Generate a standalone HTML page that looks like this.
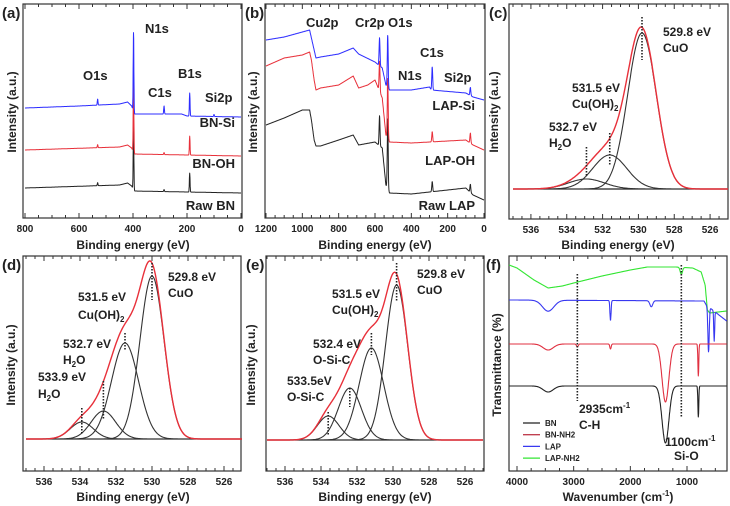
<!DOCTYPE html>
<html><head><meta charset="utf-8"><style>
html,body{margin:0;padding:0;background:#fff}
svg{display:block;font-family:"Liberation Sans",sans-serif;font-weight:bold}
</style></head><body>
<svg id="fig" width="730" height="506" viewBox="0 0 730 506" xmlns="http://www.w3.org/2000/svg"></svg>
<script>
// ---------- Data ----------
// Panel (a) survey (energy eV, counts)
const aBlueBase=[[800,110],[600,112],[450,114],[420,116],[405,112],[395,104],[220,104],[200,102],[0,101]];
const aBluePeaks=[[531,6],[398,79],[285,8],[190,23],[100,2]];
const aRedBase=[[800,68],[450,71],[420,73],[405,70],[395,64],[200,63],[0,62]];
const aRedPeaks=[[531,3],[398,70],[285,2],[190,19]];
const aBlackBase=[[800,30],[450,33],[420,35],[405,32],[395,27],[200,26],[0,25]];
const aBlackPeaks=[[531,3],[398,62],[285,2],[190,19]];
// Panel (b) survey
const bBlueBase=[[1200,178],[1100,181],[1000,186],[960,188],[950,180],[935,168],[925,160],[900,161],[800,164],[720,170],[690,164],[600,156],[560,150],[540,133],[520,128],[400,128],[300,131],[290,128],[100,125],[60,121],[0,118]];
const bBluePeaks=[[575,28],[530,52],[285,23],[75,8]];
const bRedBase=[[1200,152],[1150,156],[1100,160],[1000,163],[960,166],[950,158],[935,138],[925,128],[900,130],[800,133],[720,142],[690,130],[640,133],[600,138],[560,120],[540,83],[520,76],[400,75],[300,76],[100,78],[60,73],[0,68]];
const bRedPeaks=[[575,30],[530,60],[285,10],[75,10]];
const bBlackBase=[[1200,93],[1100,100],[1000,108],[960,108],[950,98],[935,78],[925,72],[900,72],[800,78],[720,83],[690,73],[600,76],[560,70],[540,33],[520,25],[400,24],[300,26],[100,30],[60,23],[0,18]];
const bBlackPeaks=[[575,30],[530,70],[285,10],[75,8]];
// Panels (c),(d),(e): fitted components [center eV, height, sigma]
const cComps=[[529.8,156,0.8],[531.6,34,0.95],[532.9,10,1.0]];
const dComps=[[530.0,163,0.67],[531.5,96,0.75],[532.7,28,0.68],[533.9,17,0.64]];
const eComps=[[529.8,155,0.62],[531.2,92,0.68],[532.4,52,0.64],[533.6,24,0.6]];
// Panel (f) FTIR baselines [wavenumber, T] and bands [center, depth, sigma]
const fGreenBase=[[4140,206],[4000,203],[3700,191],[3450,183],[3200,185],[3000,188],[2500,195],[2000,201],[1700,204],[1200,204],[900,203],[750,199],[680,186],[640,161],[600,158],[300,160]];
const fGreenBands=[[1100,7,20]];
const fBlueBase=[[4140,171],[700,170],[660,166],[300,150]];
const fBlueBands=[[3450,11,100],[2350,20,10],[1630,6,25],[620,45,12],[520,30,8]];
const fRedBase=[[4140,127],[300,127]];
const fRedBands=[[3450,6,90],[2935,3,15],[2350,5,12],[1380,58,60],[800,32,8]];
const fBlackBase=[[4140,85],[300,85]];
const fBlackBands=[[3450,6,90],[1380,57,60],[800,31,8]];

// ---------- Helpers ----------
const NS="http://www.w3.org/2000/svg";
const svg=document.getElementById('fig');
function mk(tag,attrs,parent){const e=document.createElementNS(NS,tag);for(const k in attrs)e.setAttribute(k,attrs[k]);(parent||svg).appendChild(e);return e;}
function interp(base,e){for(let i=0;i<base.length-1;i++){const [e0,v0]=base[i],[e1,v1]=base[i+1];if(e<=e0&&e>=e1){return v0+(v1-v0)*(e-e0)/(e1-e0);}}return base[base.length-1][1];}
function gauss(x,c,h,s){return h*Math.exp(-(x-c)*(x-c)/(2*s*s));}
function lin(d0,d1,p0,p1){return v=>p0+(v-d0)*(p1-p0)/(d1-d0);}
function text(str,x,y,size,anchor,name){const t=mk('text',{x:x,y:y,'font-size':size,'text-anchor':anchor||'start',fill:'#222'});t.textContent=str;


return t;}
function panelBox(p){
 const r=mk('rect',{x:p.x0,y:p.y0,width:p.x1-p.x0,height:p.y1-p.y0,fill:'none',stroke:'#333','stroke-width':1.2});
 
 
}
function ticks(p,from,to,minor,major,fmt){
 const g=mk('g',{});
 
 
 const lo=Math.min(from,to),hi=Math.max(from,to);
 for(let v=Math.ceil(lo/minor)*minor;v<=hi+1e-9;v+=minor){
  const x=p.xs(v);if(x<p.x0-0.5||x>p.x1+0.5)continue;
  const isMaj=Math.abs(v/major-Math.round(v/major))<1e-6;
  const L=isMaj?5:3;
  mk('line',{x1:x,x2:x,y1:p.y1,y2:p.y1-L,stroke:'#333','stroke-width':1},g);
  mk('line',{x1:x,x2:x,y1:p.y0,y2:p.y0+L,stroke:'#333','stroke-width':1},g);
  if(isMaj){const t=mk('text',{x:x,y:p.y1+14,'font-size':10,'text-anchor':'middle',fill:'#222'},g);t.textContent=fmt?fmt(v):String(Math.round(v));
   
   }
 }
}
function path(pts,color,name,w,dash){
 const d=pts.map((q,i)=>(i?'L':'M')+q[0].toFixed(1)+' '+q[1].toFixed(1)).join('');
 const e=mk('path',{d:d,fill:'none',stroke:color,'stroke-width':w||1.2,'stroke-linejoin':'round'});
 if(dash)e.setAttribute('stroke-dasharray',dash);
 
 
 return e;
}
function vdot(x,y0,y1,name){const l=mk('line',{x1:x,x2:x,y1:y0,y2:y1,stroke:'#222','stroke-width':1.6,'stroke-dasharray':'1.5,1.5'});
 
 }
function ylabel(str,x,y,name){const t=mk('text',{x:0,y:0,'font-size':12,'text-anchor':'middle',fill:'#222',transform:`translate(${x},${y}) rotate(-90)`});t.textContent=str;
 
 }
function sub(main,s,x,y,name){const t=mk('text',{x:x,y:y,'font-size':12,fill:'#222'});
 const parts=main.split('|');const a=mk('tspan',{},t);a.textContent=parts[0];const b=mk('tspan',{dy:3,'font-size':8},t);b.textContent=s;if(parts[1]){const c=mk('tspan',{dy:-3},t);c.textContent=parts[1];}}

// ---------- Panel (a) ----------
const pa={id:'panel-a',x0:23,x1:242,y0:4,y1:218};pa.xs=lin(800,0,25,241);
panelBox(pa);ticks(pa,800,0,50,200);
function survey(p,base,peaks,sig,color,name,from,to){const pts=[];for(let e=from;e>=to;e-=0.5){let v=interp(base,e);for(const pk of peaks)v+=gauss(e,pk[0],pk[1],sig);pts.push([p.xs(e),p.y1-v]);}path(pts,color,name,1);}
survey(pa,aBlackBase,aBlackPeaks,1.3,'#222','panel-a-raw-bn-line',800,0);
survey(pa,aRedBase,aRedPeaks,1.3,'#e8303a','panel-a-bn-oh-line',800,0);
survey(pa,aBlueBase,aBluePeaks,1.3,'#2d2dff','panel-a-bn-si-line',800,0);
text('(a)',2,18,15,'start','panel-a-label');
text('O1s',83,80,13,'start','o1s-label');text('N1s',145,33,13,'start','n1s-label');
text('C1s',148,97,13,'start','c1s-label');text('B1s',178,78,13,'start','b1s-label');
text('Si2p',205,102,13,'start','si2p-label');text('BN-Si',235,127,13,'end','bn-si-label');
text('BN-OH',235,168,13,'end','bn-oh-label');text('Raw BN',235,210,13,'end','raw-bn-label');
ylabel('Intensity (a.u.)',16,112,'panel-a-y-title');
text('Binding energy (eV)',133,249,12,'middle','panel-a-x-title');

// ---------- Panel (b) ----------
const pb={id:'panel-b',x0:265,x1:485,y0:4,y1:218};pb.xs=lin(1200,0,266,484);
panelBox(pb);ticks(pb,1200,0,50,200);
survey(pb,bBlackBase,bBlackPeaks,2.5,'#222','panel-b-raw-lap-line',1200,0);
survey(pb,bRedBase,bRedPeaks,2.5,'#e8303a','panel-b-lap-oh-line',1200,0);
survey(pb,bBlueBase,bBluePeaks,2.5,'#2d2dff','panel-b-lap-si-line',1200,0);
text('(b)',245,18,15,'start','panel-b-label');
text('Cu2p',306,27,13,'start','cu2p-label');text('Cr2p',355,27,13,'start','cr2p-label');
text('O1s',388,27,13,'start','b-o1s-label');text('C1s',420,57,13,'start','b-c1s-label');
text('N1s',398,80,13,'start','b-n1s-label');text('Si2p',444,82,13,'start','b-si2p-label');
text('LAP-Si',475,110,13,'end','lap-si-label');text('LAP-OH',475,165,13,'end','lap-oh-label');
text('Raw LAP',475,210,13,'end','raw-lap-label');
ylabel('Intensity (a.u.)',257,112,'panel-b-y-title');
text('Binding energy (eV)',375,249,12,'middle','panel-b-x-title');

// ---------- Fit panels ----------
function fitPanel(p,comps,base,from,to){
 const sum=[];const compPts=comps.map(()=>[]);
 for(let e=from;e>=to;e-=0.05){let s=0;comps.forEach((c,i)=>{const v=gauss(e,c[0],c[1],c[2]);s+=v;compPts[i].push([p.xs(e),base-v]);});sum.push([p.xs(e),base-s]);}
 path([[p.xs(from),base],[p.xs(to),base]],'#222',p.id+'-baseline',1.2);
 compPts.forEach((pts,i)=>path(pts,'#333',p.id+'-component-'+(i+1),1.1));
 path(sum,'#e8303a',p.id+'-envelope',1.4);
}
const pc={id:'panel-c',x0:509,x1:728,y0:4,y1:219};pc.xs=lin(537,525,513,728);
panelBox(pc);ticks(pc,537,525,0.5,2);
fitPanel(pc,cComps,189,537,525);
vdot(pc.xs(cComps[0][0]),17,60,'c-cuo-marker');vdot(pc.xs(cComps[1][0]),133,165,'c-cuoh-marker');vdot(pc.xs(cComps[2][0]),147,177,'c-h2o-marker');
text('(c)',489,18,15,'start','panel-c-label');
text('529.8 eV',663,36,12,'start','c-cuo-energy');text('CuO',663,52,12,'start','c-cuo-label');
text('531.5 eV',572,92,12,'start','c-cuoh-energy');sub('Cu(OH)','2',572,108,'c-cuoh-label');
text('532.7 eV',549,131,12,'start','c-h2o-energy');sub('H|O','2',549,147,'c-h2o-label');
ylabel('Intensity (a.u.)',498,112,'panel-c-y-title');
text('Binding energy (eV)',618,249,12,'middle','panel-c-x-title');

const pd={id:'panel-d',x0:23,x1:241,y0:256,y1:471};pd.xs=lin(536,526,44,224);
panelBox(pd);ticks(pd,537,525,0.5,2);
fitPanel(pd,dComps,439,537,525);
vdot(pd.xs(530.0),263,300,'d-cuo-marker');vdot(pd.xs(531.5),333,351,'d-cuoh-marker');vdot(pd.xs(532.7),381,420,'d-h2o-marker');vdot(pd.xs(533.9),408,435,'d-h2o2-marker');
text('(d)',2,270,15,'start','panel-d-label');
text('529.8 eV',168,281,12,'start','d-cuo-energy');text('CuO',168,297,12,'start','d-cuo-label');
text('531.5 eV',78,301,12,'start','d-cuoh-energy');sub('Cu(OH)','2',78,319,'d-cuoh-label');
text('532.7 eV',63,348,12,'start','d-h2o-energy');sub('H|O','2',63,364,'d-h2o-label');
text('533.9 eV',38,381,12,'start','d-h2o2-energy');sub('H|O','2',38,398,'d-h2o2-label');
ylabel('Intensity (a.u.)',15,365,'panel-d-y-title');
text('Binding energy (eV)',133,501,12,'middle','panel-d-x-title');

const pe={id:'panel-e',x0:266,x1:484,y0:256,y1:471};pe.xs=lin(536,526,285,465);
panelBox(pe);ticks(pe,537,525,0.5,2);
fitPanel(pe,eComps,440,537,525);
vdot(pe.xs(529.8),263,301,'e-cuo-marker');vdot(pe.xs(531.2),333,355,'e-cuoh-marker');vdot(pe.xs(532.4),388,407,'e-osic-marker');vdot(pe.xs(533.6),412,435,'e-osic2-marker');
text('(e)',246,270,15,'start','panel-e-label');
text('529.8 eV',417,278,12,'start','e-cuo-energy');text('CuO',417,294,12,'start','e-cuo-label');
text('531.5 eV',332,298,12,'start','e-cuoh-energy');sub('Cu(OH)','2',332,314,'e-cuoh-label');
text('532.4 eV',313,348,12,'start','e-osic-energy');text('O-Si-C',313,364,12,'start','e-osic-label');
text('533.5eV',287,385,12,'start','e-osic2-energy');text('O-Si-C',287,401,12,'start','e-osic2-label');
ylabel('Intensity (a.u.)',255,365,'panel-e-y-title');
text('Binding energy (eV)',375,501,12,'middle','panel-e-x-title');

// ---------- Panel (f) ----------
const pf={id:'panel-f',x0:509,x1:727,y0:256,y1:471};pf.xs=lin(4000,1000,517,687);
panelBox(pf);ticks(pf,4140,300,250,1000);
function ftir(base,bands,color,name){const pts=[];for(let w=4140;w>=300;w-=4){let v=interp(base,w);for(const b of bands)v-=gauss(w,b[0],b[1],b[2]);pts.push([pf.xs(w),pf.y1-v]);}path(pts,color,name,1.1);}
ftir(fGreenBase,fGreenBands,'#33e633','ftir-lap-nh2-line');
ftir(fBlueBase,fBlueBands,'#3838f0','ftir-lap-line');
ftir(fRedBase,fRedBands,'#e03040','ftir-bn-nh2-line');
ftir(fBlackBase,fBlackBands,'#222','ftir-bn-line');
vdot(pf.xs(2935),274,401,'ch-marker');vdot(pf.xs(1100),265,418,'sio-marker');
text('(f)',486,270,15,'start','panel-f-label');
const t1=mk('text',{x:579,y:413,'font-size':12,fill:'#222'});t1.innerHTML='2935cm<tspan dy="-5" font-size="8">-1</tspan>';
text('C-H',579,429,12,'start','ch-label');
const t2=mk('text',{x:665,y:446,'font-size':12,fill:'#222'});t2.innerHTML='1100cm<tspan dy="-5" font-size="8">-1</tspan>';
text('Si-O',674,460,12,'start','sio-label');
const legNames=['BN','BN-NH2','LAP','LAP-NH2'];const legCols=['#222','#c04050','#3838f0','#33e633'];
legNames.forEach((n,i)=>{const y=426+i*11.7;
 const l=mk('line',{x1:523,x2:540,y1:y-3,y2:y-3,stroke:legCols[i],'stroke-width':1.3});
 
 
 text(n,545,y,8,'start','legend-entry-'+n.toLowerCase());});
ylabel('Transmittance (%)',501,365,'panel-f-y-title');
const t3=mk('text',{x:618,y:501,'font-size':12,'text-anchor':'middle',fill:'#222'});t3.innerHTML='Wavenumber (cm<tspan dy="-5" font-size="8">-1</tspan><tspan dy="5">)</tspan>';
</script>
</body></html>
